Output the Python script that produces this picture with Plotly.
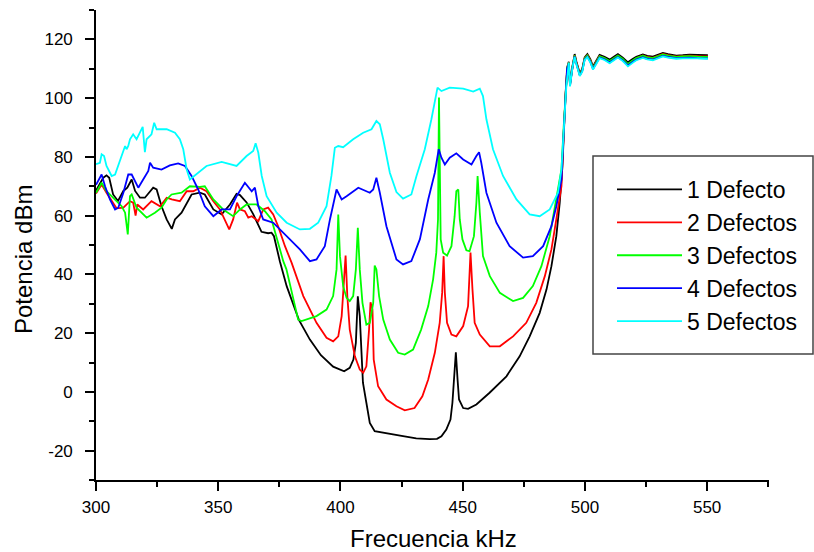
import plotly.graph_objects as go

# ---------------- data ----------------
f_black = [300.0, 301.5, 303.0, 304.3, 305.4, 307.0, 309.0, 311.2, 312.8, 314.6, 316.0, 318.0, 320.0, 323.4, 324.8,
           326.8, 328.9, 331.0, 332.3, 335.0, 339.1, 342.5, 344.5, 348.0, 351.4, 354.8, 357.5, 358.9, 361.6, 364.3,
           367.7, 370.4, 371.8, 372.8, 375.2, 378.0, 380.5, 383.0, 387.5, 392.0, 397.0, 401.5, 403.8, 405.3, 406.3,
           407.1, 407.9, 408.6, 409.2, 410.6, 412.0, 414.0, 418.8, 425.6, 431.0, 436.5, 439.5, 441.3, 443.3, 445.0,
           445.8, 446.5, 447.2, 447.9, 448.5, 450.2, 452.2, 455.6, 461.0, 467.9, 473.3, 477.4, 481.5, 484.3, 486.3,
           488.3, 489.7, 490.8, 491.4, 492.1, 492.8]
v_black = [68.5, 70.5, 72.9, 73.7, 72.9, 67.2, 65.0, 68.4, 69.5, 72.3, 68.4, 66.1, 66.1, 69.5, 68.9,
           63.2, 58.7, 55.5, 58.7, 61.0, 67.2, 67.8, 67.2, 62.1, 60.4, 63.8, 67.4, 67.0, 64.5, 60.5,
           54.5, 54.0, 54.2, 53.0, 44.5, 36.0, 30.0, 24.5, 17.8, 12.5, 8.6, 7.0, 8.2, 11.0, 16.7,
           32.5, 25.8, 9.9, 3.1, -3.7, -10.6, -13.4, -14.0, -15.1, -15.8, -16.1, -16.0, -15.1, -12.8, -9.4,
           -3.7, 4.2, 13.5, 4.2, -2.6, -5.5, -5.8, -4.3, -0.3, 5.3, 12.1, 18.9, 26.9, 34.9, 42.8,
           53.0, 64.4, 76.9, 90.5, 101.9, 110.0]

f_red = [300.0, 302.3, 304.3, 307.1, 308.4, 311.2, 313.9, 315.2, 316.2, 316.9, 319.3, 322.7, 326.2, 328.9, 331.0,
         334.3, 337.1, 339.8, 342.5, 345.2, 348.0, 350.7, 352.7, 354.5, 356.1, 357.7, 358.9, 360.9, 362.3, 363.7,
         366.4, 368.4, 370.4, 372.5, 374.5, 377.3, 380.0, 382.0, 384.8, 390.2, 394.3, 397.0, 399.1, 400.5, 401.4,
         402.1, 402.8, 403.8, 405.9, 407.9, 409.3, 410.6, 411.7, 412.3, 413.1, 413.6, 415.4, 418.8, 422.9, 426.3,
         430.3, 433.5, 435.9, 438.6, 440.6, 441.6, 442.2, 442.7, 443.6, 445.4, 447.4, 450.2, 452.2, 453.2, 454.0,
         454.9, 457.0, 461.1, 465.2, 470.6, 476.0, 480.1, 483.6, 486.3, 488.3, 490.4, 491.3, 492.0, 492.7]
v_red = [67.5, 70.6, 67.8, 64.4, 62.5, 62.7, 64.9, 64.4, 60.0, 63.8, 62.1, 64.9, 63.2, 66.1, 65.5,
         64.9, 68.3, 68.3, 69.5, 68.3, 64.9, 62.1, 58.7, 55.3, 58.7, 64.4, 62.1, 61.5, 59.3, 59.8,
         58.1, 62.1, 62.7, 60.4, 56.4, 49.6, 44.0, 39.4, 32.6, 23.5, 18.4, 17.2, 18.9, 25.8, 38.3,
         46.4, 32.6, 21.2, 12.1, 7.6, 6.5, 8.7, 21.2, 30.5, 28.0, 11.0, 1.9, -2.6, -4.9, -6.3,
         -5.5, -1.5, 4.2, 13.3, 23.5, 33.7, 46.2, 33.7, 23.5, 19.5, 18.9, 22.4, 29.2, 47.4, 34.9,
         23.5, 19.5, 15.5, 15.5, 18.9, 23.5, 30.3, 39.4, 48.5, 58.7, 70.0, 88.0, 100.5, 110.5]

f_green = [300.0, 302.3, 304.3, 307.8, 310.5, 311.9, 313.0, 313.9, 314.6, 316.6, 320.7, 324.1, 326.8, 328.9, 330.9,
           335.0, 338.4, 342.5, 344.5, 348.0, 352.0, 356.1, 358.9, 361.6, 365.7, 369.1, 371.8, 373.9, 376.6, 377.9,
           381.3, 382.7, 384.1, 390.2, 394.3, 397.0, 398.4, 399.1, 399.8, 401.1, 402.5, 403.8, 405.2, 406.3, 407.1,
           407.9, 409.0, 410.6, 412.0, 413.4, 414.0, 414.7, 415.8, 417.5, 420.2, 423.6, 426.3, 429.7, 433.0, 435.9,
           437.9, 439.2, 439.9, 440.3, 441.0, 442.0, 443.6, 445.4, 446.7, 447.4, 448.2, 448.8, 449.9, 451.5, 452.8,
           454.6, 455.6, 456.1, 457.0, 458.3, 461.1, 465.2, 470.6, 474.7, 478.7, 482.2, 485.6, 488.3, 490.4, 491.3,
           492.0, 492.8]
v_green = [67.8, 71.2, 68.3, 65.5, 63.2, 61.0, 53.6, 66.6, 67.2, 62.7, 59.3, 61.0, 62.7, 65.5, 67.2,
           67.8, 70.0, 69.8, 70.0, 65.5, 62.1, 59.8, 62.1, 63.8, 63.8, 61.5, 58.7, 52.5, 44.5, 41.7,
           30.3, 24.6, 24.1, 25.8, 28.0, 32.6, 41.7, 60.4, 46.2, 36.0, 32.0, 30.9, 32.6, 41.7, 55.9,
           41.7, 30.3, 22.9, 23.5, 30.3, 43.0, 41.7, 32.6, 24.6, 17.8, 13.3, 12.7, 14.4, 21.2, 29.2,
           38.3, 47.4, 58.7, 100.2, 51.9, 47.4, 46.4, 49.6, 59.8, 68.3, 68.9, 58.7, 51.9, 48.2, 47.9,
           53.0, 64.4, 73.5, 61.0, 46.2, 39.4, 33.7, 30.9, 32.0, 36.0, 42.8, 53.0, 65.5, 75.7, 90.0,
           101.5, 110.5]

f_blue = [300.0, 302.3, 303.7, 305.7, 307.8, 309.1, 311.2, 313.2, 314.6, 315.9, 317.3, 319.3, 321.4, 322.1, 323.4,
          326.8, 330.2, 333.6, 336.4, 339.1, 341.8, 344.5, 348.0, 351.4, 354.8, 357.5, 360.9, 363.7, 365.0, 366.4,
          368.4, 372.5, 378.0, 383.4, 387.5, 390.2, 393.6, 395.7, 398.4, 400.5, 402.5, 407.3, 412.0, 413.4, 414.7,
          416.1, 418.8, 422.9, 425.6, 429.0, 432.5, 435.9, 438.6, 440.2, 441.3, 442.7, 444.7, 447.4, 450.2, 453.6,
          455.6, 456.7, 457.6, 459.7, 463.8, 469.2, 474.7, 478.7, 482.9, 486.3, 488.3, 490.4, 491.3, 492.0, 492.7]
v_blue = [70.5, 74.0, 70.0, 65.5, 62.1, 62.7, 67.8, 74.0, 74.0, 71.8, 69.5, 72.3, 75.2, 78.0, 76.3,
          75.7, 77.1, 77.8, 76.9, 73.5, 68.9, 63.2, 59.8, 62.1, 62.1, 66.6, 71.2, 68.3, 69.5, 63.2,
          58.7, 57.6, 53.0, 48.5, 44.5, 45.1, 49.6, 58.7, 68.9, 65.5, 66.6, 69.5, 67.8, 68.9, 72.9,
          67.8, 56.4, 45.1, 43.4, 44.5, 52.0, 65.5, 74.6, 82.6, 79.7, 77.4, 79.7, 81.2, 79.1, 77.4,
          80.3, 81.6, 78.0, 67.8, 57.6, 49.6, 45.7, 46.2, 49.6, 56.4, 63.2, 72.3, 88.0, 100.5, 110.0]

f_cyan = [300.0, 301.6, 302.3, 303.3, 304.3, 306.4, 307.8, 309.8, 311.9, 312.5, 313.2, 313.9, 315.2, 316.6, 318.0,
          319.1, 320.0, 320.7, 322.7, 323.8, 324.8, 328.9, 332.3, 334.3, 335.7, 337.1, 338.4, 341.1, 345.2, 351.4,
          357.5, 361.6, 364.3, 365.3, 366.4, 367.8, 369.8, 373.9, 378.0, 383.4, 387.5, 390.9, 394.3, 396.3, 397.7,
          399.1, 401.1, 405.2, 409.3, 412.7, 414.7, 416.1, 417.5, 420.2, 422.9, 425.6, 429.0, 431.1, 434.5, 437.2,
          438.6, 439.7, 441.3, 444.7, 450.2, 454.3, 457.0, 458.3, 459.7, 462.4, 466.5, 472.0, 477.4, 481.5, 485.6,
          489.0, 490.4, 491.4, 492.4]
v_cyan = [77.5, 78.0, 80.9, 80.3, 76.9, 73.5, 74.0, 79.1, 83.7, 82.6, 83.7, 86.0, 87.7, 86.0, 88.2,
          90.2, 81.6, 86.0, 87.7, 91.6, 89.4, 89.4, 88.2, 86.0, 82.6, 75.7, 72.3, 74.0, 76.9, 78.3,
          76.9, 80.3, 82.0, 84.6, 81.4, 73.5, 66.6, 61.0, 57.6, 55.3, 55.5, 57.6, 63.2, 73.5, 83.1,
          83.7, 83.3, 86.0, 88.2, 89.4, 92.2, 91.1, 86.0, 74.6, 68.0, 65.8, 67.2, 73.5, 82.6, 92.8,
          99.6, 103.6, 102.4, 103.6, 103.2, 102.2, 103.2, 100.7, 92.8, 82.6, 73.5, 65.5, 60.4, 59.8, 62.1,
          67.8, 75.7, 90.5, 104.1]

# plateau above 493 kHz (all five series nearly overlap)
f_plateau = [493.4, 493.9, 494.9, 495.8, 496.5, 497.9, 498.9, 499.9, 501.0, 502.2, 503.3, 504.7, 506.0, 508.0,
             510.1, 512.0, 513.5, 515.5, 517.6, 519.5, 521.0, 523.7, 525.5, 527.8, 530.0, 531.9, 534.0, 537.4,
             540.0, 542.8, 546.0, 550.3]
p_black = [112.4, 105.0, 111.2, 115.0, 112.5, 108.4, 109.9, 113.9, 115.0, 113.3, 110.8, 112.7, 114.7, 114.1,
           113.1, 114.2, 115.0, 113.8, 112.2, 113.3, 114.1, 114.9, 114.4, 114.1, 114.8, 115.4, 115.0, 114.5,
           114.6, 114.8, 114.7, 114.6]
p_red = [112.1, 104.6, 110.9, 114.6, 112.1, 108.1, 109.6, 113.6, 114.6, 112.9, 110.4, 112.3, 114.3, 113.6,
         112.4, 113.6, 114.5, 113.1, 111.2, 112.6, 113.6, 114.5, 114.0, 113.7, 114.4, 115.0, 114.6, 114.1,
         114.3, 114.5, 114.3, 114.2]
p_green = [112.0, 104.5, 110.8, 114.5, 112.0, 108.0, 109.5, 113.5, 114.5, 112.8, 110.3, 112.2, 114.2, 113.6,
           112.6, 113.7, 114.5, 113.3, 111.6, 112.8, 113.6, 114.4, 113.9, 113.6, 114.3, 114.9, 114.5, 114.0,
           114.2, 114.3, 114.1, 114.0]
p_blue = [111.7, 104.2, 110.5, 114.2, 111.7, 107.7, 109.2, 113.2, 114.1, 112.4, 109.9, 111.8, 113.8, 113.2,
          112.1, 113.2, 114.0, 112.8, 111.1, 112.3, 113.1, 113.9, 113.4, 113.1, 113.8, 114.4, 114.0, 113.6,
          113.7, 113.8, 113.6, 113.5]
p_cyan = [112.1, 104.0, 110.3, 114.0, 111.5, 107.5, 109.0, 113.0, 113.9, 112.2, 109.7, 111.6, 113.6, 113.0,
          111.9, 113.0, 113.8, 112.6, 110.8, 112.0, 112.9, 113.7, 113.2, 112.9, 113.6, 114.2, 113.8, 113.4,
          113.5, 113.6, 113.5, 113.4]

names = ["1 Defecto", "2 Defectos", "3 Defectos", "4 Defectos", "5 Defectos"]
colors = ["#000000", "#FF0000", "#00FF00", "#0000FF", "#00FFFF"]

x_ticks = [300, 350, 400, 450, 500, 550]
x_labels = ["300", "350", "400", "450", "500", "550"]
y_ticks = [-20, 0, 20, 40, 60, 80, 100, 120]
y_labels = ["-20", "0", "20", "40", "60", "80", "100", "120"]

series = [
    (f_black + f_plateau, v_black + p_black),
    (f_red + f_plateau, v_red + p_red),
    (f_green + f_plateau, v_green + p_green),
    (f_blue + f_plateau, v_blue + p_blue),
    (f_cyan + f_plateau, v_cyan + p_cyan),
]

FONT = "Liberation Sans, Arial, sans-serif"

fig = go.Figure()
for (fx, vy), name, col in zip(series, names, colors):
    fig.add_trace(go.Scatter(x=fx, y=vy, mode="lines", name=name,
                             line=dict(color=col, width=1.8),
                             legendgroup=name))

W, H = 814, 552
ml, mr, mt, mb = 96, 45, 10, 72
pw, ph = W - ml - mr, H - mt - mb


def px_x(p):
    return (p - ml) / pw


def px_y(p):
    return (H - mb - p) / ph


fig.update_layout(
    width=W, height=H,
    margin=dict(l=ml, r=mr, t=mt, b=mb),
    paper_bgcolor="white", plot_bgcolor="white",
    font=dict(family=FONT, color="black"),
    showlegend=True,
    legend=dict(
        x=px_x(612), y=px_y(168), xanchor="left", yanchor="top",
        bgcolor="rgba(0,0,0,0)", borderwidth=0,
        font=dict(family=FONT, size=23, color="black"),
        itemwidth=65, traceorder="grouped", tracegroupgap=0,
    ),
    xaxis=dict(
        range=[300, 575.3], tickvals=x_ticks, ticktext=x_labels, showgrid=False, zeroline=False,
        showline=True, linecolor="black", linewidth=1.6, automargin=False,
        ticks="outside", ticklen=9, tickwidth=1.6, tickcolor="black", ticklabelstandoff=2,
        tickfont=dict(family=FONT, size=17, color="black"),
        minor=dict(dtick=25, tick0=300, ticks="outside", ticklen=5, tickwidth=1.6, tickcolor="black"),
    ),
    yaxis=dict(
        range=[-30, 130], tickvals=y_ticks, ticktext=y_labels, showgrid=False, zeroline=False,
        showline=True, linecolor="black", linewidth=1.6, automargin=False,
        ticks="outside", ticklen=9, tickwidth=1.6, tickcolor="black", ticklabelstandoff=9,
        tickfont=dict(family=FONT, size=17, color="black"),
        minor=dict(dtick=10, tick0=-30, ticks="outside", ticklen=5, tickwidth=1.6, tickcolor="black"),
    ),
    shapes=[dict(type="rect", xref="paper", yref="paper",
                 x0=px_x(593), x1=px_x(813), y0=px_y(354), y1=px_y(156),
                 line=dict(color="#444444", width=1.5), fillcolor="rgba(0,0,0,0)", layer="below")],
    annotations=[
        dict(text="Frecuencia kHz", xref="paper", yref="paper", x=px_x(433), y=px_y(538),
             xanchor="center", yanchor="middle", showarrow=False,
             font=dict(family=FONT, size=24, color="black")),
        dict(text="Potencia dBm", xref="paper", yref="paper", x=px_x(23), y=px_y(260),
             xanchor="center", yanchor="middle", showarrow=False, textangle=-90,
             font=dict(family=FONT, size=24, color="black")),
    ],
)

fig.write_html("out.html", config={"displayModeBar": False},
               post_script="document.body.style.margin='0px';")
